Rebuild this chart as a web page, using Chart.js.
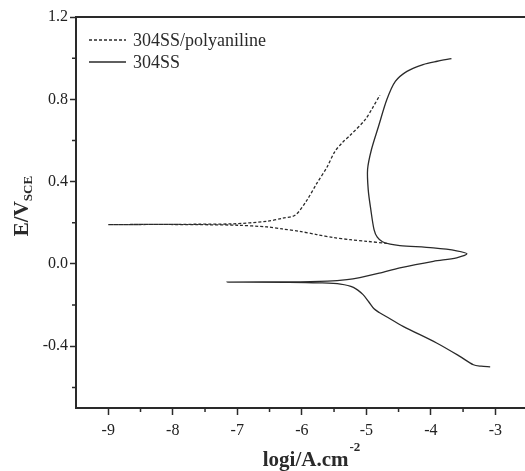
<!DOCTYPE html>
<html>
<head>
<meta charset="utf-8">
<script src="https://cdn.jsdelivr.net/npm/chart.js@4.4.1/dist/chart.umd.min.js"></script>
<style>
  html, body { margin: 0; padding: 0; background: #fff; }
  #wrap { width: 525px; height: 471px; position: relative; }
</style>
</head>
<body>
<div id="wrap"><canvas id="tafel"></canvas></div>
<script>
// tick labels
const xTicks = [-9, -8, -7, -6, -5, -4, -3];
const yTicks = [-0.4, 0.0, 0.4, 0.8, 1.2];

// 304SS/polyaniline: cathodic branch (right to left) then anodic branch
const polyLogI = [-4.68, -4.99, -5.25, -5.51, -5.77, -6.03, -6.30, -6.54, -7.00, -7.60, -8.30, -9.00,
                  -8.30, -7.60, -7.07, -6.54, -6.30, -6.10, -5.92, -5.77, -5.61, -5.49, -5.37, -5.25, -5.02, -4.90, -4.79];
const polyE    = [0.100, 0.110, 0.118, 0.128, 0.143, 0.158, 0.170, 0.180, 0.188, 0.191, 0.192, 0.191,
                  0.192, 0.193, 0.195, 0.207, 0.222, 0.238, 0.310, 0.390, 0.470, 0.545, 0.590, 0.625, 0.700, 0.760, 0.820];

// 304SS: cathodic branch (right to left) then anodic branch with the loop
const ssLogI = [-3.08, -3.22, -3.34, -3.55, -3.91, -4.43, -4.70, -4.80, -4.88, -4.96, -5.05, -5.20, -5.40, -5.72, -6.20, -7.16,
                -6.20, -5.60, -5.30, -5.10, -4.80, -4.48, -3.96, -3.60, -3.44, -3.60, -3.96, -4.48, -4.63, -4.75, -4.83,
                -4.88, -4.93, -4.97, -4.98, -4.92, -4.81, -4.68, -4.55, -4.37, -4.12, -3.90, -3.68];
const ssE    = [-0.500, -0.497, -0.490, -0.449, -0.384, -0.303, -0.254, -0.236, -0.218, -0.185, -0.149, -0.114, -0.098, -0.092, -0.089, -0.088,
                -0.087, -0.083, -0.076, -0.066, -0.045, -0.019, 0.013, 0.030, 0.049, 0.064, 0.078, 0.089, 0.096, 0.108, 0.130,
                0.167, 0.264, 0.360, 0.460, 0.556, 0.669, 0.800, 0.887, 0.936, 0.969, 0.985, 0.998];

const toPts = (xs, ys) => xs.map((x, i) => ({ x: x, y: ys[i] }));
const ink = '#2a2a2a';
const serif = "'Liberation Serif', 'DejaVu Serif', serif";

const decor = {
  id: 'decor',
  afterDraw(chart) {
    const ctx = chart.ctx;
    const a = chart.chartArea;
    const xs = chart.scales.x, ys = chart.scales.y;
    ctx.save();
    ctx.strokeStyle = ink;
    // top frame line
    ctx.lineWidth = 2;
    ctx.beginPath();
    ctx.moveTo(a.left - 1, a.top);
    ctx.lineTo(a.right, a.top);
    ctx.stroke();
    // minor ticks
    ctx.lineWidth = 1.5;
    ctx.beginPath();
    for (let v = -8.5; v < xs.max; v += 1) {
      const px = xs.getPixelForValue(v);
      ctx.moveTo(px, a.bottom);
      ctx.lineTo(px, a.bottom + 4);
    }
    for (let v = -0.6; v < 1.2; v += 0.4) {
      const py = ys.getPixelForValue(v);
      ctx.moveTo(a.left, py);
      ctx.lineTo(a.left - 4, py);
    }
    ctx.stroke();

    // legend inside plot
    ctx.font = '18px ' + serif;
    ctx.fillStyle = ink;
    ctx.textBaseline = 'middle';
    chart.data.datasets.forEach((ds, i) => {
      const y = 40 + i * 22;
      ctx.lineWidth = 1.3;
      ctx.setLineDash(ds.borderDash || []);
      ctx.beginPath();
      ctx.moveTo(89, y);
      ctx.lineTo(126, y);
      ctx.stroke();
      ctx.setLineDash([]);
      ctx.fillText(ds.label, 133, y + 1);
    });

    // x axis title with superscript
    ctx.textBaseline = 'alphabetic';
    ctx.font = 'bold 21px ' + serif;
    const main = 'logi/A.cm';
    const wMain = ctx.measureText(main).width;
    ctx.font = 'bold 13px ' + serif;
    const wSup = ctx.measureText('-2').width;
    const x0 = 311 - (wMain + wSup) / 2;
    ctx.font = 'bold 21px ' + serif;
    ctx.fillText(main, x0, 466);
    ctx.font = 'bold 13px ' + serif;
    ctx.fillText('-2', x0 + wMain + 1, 451);

    // y axis title with subscript
    ctx.translate(28, 206);
    ctx.rotate(-Math.PI / 2);
    ctx.font = 'bold 21px ' + serif;
    const ev = 'E/V';
    const wEv = ctx.measureText(ev).width;
    ctx.font = 'bold 13px ' + serif;
    const wSce = ctx.measureText('SCE').width;
    const s0 = -(wEv + wSce) / 2;
    ctx.font = 'bold 21px ' + serif;
    ctx.fillText(ev, s0, 0);
    ctx.font = 'bold 13px ' + serif;
    ctx.fillText('SCE', s0 + wEv, 4);
    ctx.restore();
  }
};

new Chart(document.getElementById('tafel'), {
  type: 'scatter',
  data: {
    datasets: [
      {
        label: '304SS/polyaniline',
        data: toPts(polyLogI, polyE),
        showLine: true,
        borderColor: ink,
        borderWidth: 1.3,
        borderDash: [3, 2],
        pointRadius: 0,
        tension: 0.3
      },
      {
        label: '304SS',
        data: toPts(ssLogI, ssE),
        showLine: true,
        borderColor: ink,
        borderWidth: 1.3,
        pointRadius: 0,
        tension: 0.3
      }
    ]
  },
  options: {
    responsive: true,
    maintainAspectRatio: false,
    animation: false,
    layout: { padding: { top: 17, right: 0, left: 0, bottom: 0 } },
    plugins: { legend: { display: false }, tooltip: { enabled: false } },
    scales: {
      x: {
        type: 'linear',
        min: -9.5,
        max: -2.54,
        afterBuildTicks: s => { s.ticks = xTicks.map(v => ({ value: v })); },
        afterFit: s => { s.height = 63; },
        grid: { drawOnChartArea: false, drawTicks: true, tickLength: 7, tickWidth: 1.5, tickColor: ink },
        border: { color: ink, width: 2 },
        ticks: { color: '#222', padding: 6, maxRotation: 0, font: { family: serif, size: 16 },
                 callback: v => String(v) }
      },
      y: {
        type: 'linear',
        min: -0.7,
        max: 1.2,
        afterBuildTicks: s => { s.ticks = yTicks.map(v => ({ value: v })); },
        afterFit: s => { s.width = 76; },
        grid: { drawOnChartArea: false, drawTicks: true, tickLength: 6, tickWidth: 1.5, tickColor: ink },
        border: { color: ink, width: 2 },
        ticks: { color: '#222', padding: 2, font: { family: serif, size: 16 },
                 callback: v => v.toFixed(1) }
      }
    }
  },
  plugins: [decor]
});
</script>
</body>
</html>
